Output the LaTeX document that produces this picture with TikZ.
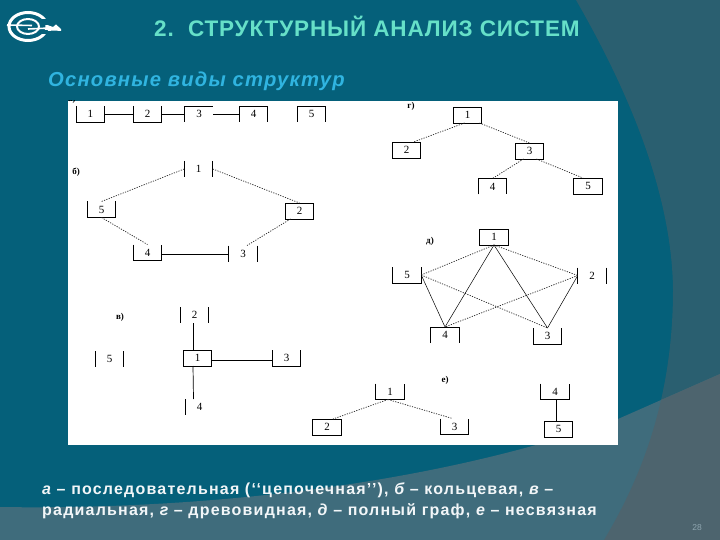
\documentclass[tikz,border=0pt]{standalone}
\usepackage{fontspec}
\setmainfont{Liberation Sans}
\newfontfamily\boxfont{Liberation Serif}
\newfontfamily\titlefont[LetterSpace=3.8]{Liberation Sans}
\newfontfamily\subfont[LetterSpace=6.0]{Liberation Sans}
\newfontfamily\capfont[LetterSpace=7.5]{Liberation Sans}
\usetikzlibrary{calc}
\definecolor{bgteal}{HTML}{05607A}
\definecolor{bgright}{HTML}{2A5F70}
\definecolor{bgband}{HTML}{3F6C7C}
\definecolor{bgover}{HTML}{4D646E}
\definecolor{titlecol}{HTML}{66E0C8}
\definecolor{subcol}{HTML}{30B4E0}
\definecolor{capcol}{HTML}{F2F6F8}
\definecolor{pagecol}{HTML}{8FA6B0}
\tikzset{
  x=1pt,y=-1pt,
  bx/.style={minimum width=28.5pt,minimum height=16pt,inner sep=0pt,outer sep=0pt,font=\boxfont\fontsize{11}{11}\selectfont},
  full/.style={bx,draw=black,line width=0.8pt},
  lbl/.style={inner sep=0pt,font=\boxfont\bfseries\fontsize{9}{9}\selectfont},
  solidl/.style={black,line width=0.7pt},
  thinl/.style={black,line width=0.5pt},
  dotl/.style={black!85,line width=0.7pt,dash pattern=on 1.2pt off 1.3pt},
  side/.style={black,line width=0.8pt},
}
\newcommand{\boxL}[1]{\draw[side] (#1.north west)--(#1.south west);}
\newcommand{\boxU}[1]{\draw[side] (#1.north west)--(#1.south west)--(#1.south east)--(#1.north east);}
\newcommand{\boxN}[1]{\draw[side] (#1.south west)--(#1.north west)--(#1.north east)--(#1.south east);}
\newcommand{\boxLR}[1]{\draw[side] (#1.north west)--(#1.south west) (#1.north east)--(#1.south east);}
\newcommand{\boxLT}[1]{\draw[side] (#1.south west)--(#1.north west)--(#1.north east);}
\begin{document}
\begin{tikzpicture}
\useasboundingbox (0,0) rectangle (720,540);
% background
\fill[bgteal] (0,0) rectangle (720,540);
\fill[bgright] (576,0) .. controls (625,85) and (672,190) .. (673,290)
  .. controls (673,400) and (640,480) .. (604,540) -- (720,540) -- (720,0) -- cycle;
\fill[bgband] (0,507) .. controls (180,510) and (420,490) .. (618,419)
  -- (720,374) -- (720,540) -- (0,540) -- cycle;
\begin{scope}
  \clip (0,507) .. controls (180,510) and (420,490) .. (618,419) -- (720,374) -- (720,540) -- (0,540) -- cycle;
  \fill[bgover] (576,0) .. controls (625,85) and (672,190) .. (673,290)
  .. controls (673,400) and (640,480) .. (604,540) -- (720,540) -- (720,0) -- cycle;
\end{scope}
% logo
\draw[white,line width=3pt] (28,26.5) ellipse [x radius=19, y radius=14];
\draw[white,line width=2pt] (28,26.5) ellipse [x radius=11, y radius=7.5];
\fill[bgteal] (40,19) rectangle (50,25);
\fill[bgteal] (40,30) rectangle (50,34);
\draw[white,line width=1.6pt] (7,25) -- (32,25.5);
\draw[white,line width=1.6pt] (28,29) -- (50,28);
\fill[white] (47,25) -- (53,27) -- (56,24.5) -- (61,29) -- (61,31) -- (54,30.5) -- (48,31) -- cycle;
% headings
\node[anchor=base west,inner sep=0pt,text=titlecol,font=\titlefont\bfseries\fontsize{22.5}{24}\selectfont] (title) at (154,37) {2.\ \ СТРУКТУРНЫЙ АНАЛИЗ СИСТЕМ};
\node[anchor=base west,inner sep=0pt,text=subcol,font=\subfont\bfseries\itshape\fontsize{20.2}{22}\selectfont] (sub) at (48,87) {Основные виды структур};
% white sheet
\fill[white] (68,101) rectangle (618,445);
\begin{scope}
  \clip (68,101) rectangle (618,445);
  \node[lbl,anchor=base west] (la) at (68,102) {а)};
\end{scope}
% a) chain
\node[bx] (a1) at (90.25,114) {1};
\node[bx] (a2) at (147.5,114) {2};
\node[bx] (a3) at (199,114) {3};
\node[bx] (a4) at (253.5,114) {4};
\node[bx] (a5) at (311.5,114) {5};
\boxU{a1}\boxU{a2}\boxLT{a3}\boxN{a4}\boxN{a5}
\draw[solidl] (a1.east)--(a2.west);
\draw[solidl] (a2.east)--(a3.west);
\draw[solidl] (a3.east)--(a4.west);
% b) ring
\node[lbl] (lb) at (76,172.5) {б)};
\node[bx] (b1) at (198.5,169) {1};
\node[bx] (b5) at (101.5,209.5) {5};
\node[full] (b2) at (299.5,211) {2};
\node[bx] (b4) at (147.5,252.5) {4};
\node[bx] (b3) at (243,253.5) {3};
\boxLR{b1}\boxU{b5}\boxU{b4}\boxLR{b3}
\draw[dotl] (b1.west)--(b5.north);
\draw[dotl] (b1.east)--(b2.north);
\draw[dotl] (b5.south)--(b4.north);
\draw[dotl] ([xshift=-9pt]b2.south)--([xshift=4pt]b3.north);
\draw[solidl] ([yshift=-1.5pt]b4.east)--([yshift=-.5pt]b3.west);
% g) tree
\node[lbl] (lg) at (411,106) {г)};
\node[full] (g1) at (467.5,115) {1};
\node[full] (g2) at (406.5,150) {2};
\node[full] (g3) at (529.5,151) {3};
\node[bx] (g4) at (492.5,186.5) {4};
\node[full] (g5) at (588,186) {5};
\boxN{g4}
\draw[dotl] ([xshift=-3pt]g1.south)--([xshift=7pt]g2.north);
\draw[dotl] ([xshift=12pt]g1.south)--(g3.north);
\draw[dotl] ([xshift=-6pt]g3.south)--(g4.north);
\draw[dotl] ([xshift=7pt]g3.south)--([xshift=-5pt]g5.north);
% d) complete
\node[lbl] (ld) at (430,241) {д)};
\node[full] (d1) at (494,237) {1};
\node[bx] (d5) at (407,275) {5};
\node[bx] (d2) at (592,275.5) {2};
\node[bx] (d4) at (445,335) {4};
\node[bx] (d3) at (547.5,336) {3};
\boxU{d5}\boxLR{d2}\boxN{d4}\boxU{d3}
\draw[dotl] (d1.south)--(d5.east);
\draw[dotl] (d1.south)--(d2.west);
\draw[dotl] (d5.east)--(d3.north);
\draw[dotl] (d2.west)--(d4.north);
\draw[thinl] (d1.south)--(d4.north);
\draw[thinl] (d1.south)--(d3.north);
\draw[thinl] (d5.east)--(d4.north);
\draw[thinl] (d2.west)--(d3.north);
% v) radial
\node[lbl] (lv) at (120,317) {в)};
\node[bx] (v2) at (194.5,315) {2};
\node[bx] (v5) at (109.5,359) {5};
\node[full] (v1) at (197.5,358) {1};
\node[bx] (v3) at (286.5,358) {3};
\node[bx] (v4) at (199.5,407) {4};
\boxLR{v2}\boxLR{v5}\boxU{v3}\boxL{v4}
\draw[solidl] ([xshift=-1.5pt]v2.south)--([xshift=-4.5pt]v1.north);
\draw[solidl] ([yshift=-2.5pt]v1.east)--([yshift=-2.5pt]v3.west);
\draw[solidl] ([xshift=-4.5pt]v1.south)--([xshift=-6pt]v4.north);
% e) disconnected
\node[lbl] (le) at (445,380) {е)};
\node[bx] (e1) at (390,391.5) {1};
\node[full] (e2) at (327,427) {2};
\node[bx] (e3) at (454.5,426.5) {3};
\node[bx] (e4) at (555,391.5) {4};
\node[full] (e5) at (558.5,429) {5};
\boxU{e1}\boxU{e3}\boxU{e4}
\draw[dotl] ([xshift=-2pt]e1.south)--([xshift=6pt]e2.north);
\draw[dotl] ([xshift=-2pt]e1.south)--([xshift=-2pt]e3.north);
\draw[solidl] ([xshift=1pt]e4.south)--([xshift=-2.5pt]e5.north);
% caption
\node[anchor=base west,inner sep=0pt,text=capcol,font=\capfont\bfseries\fontsize{16}{17}\selectfont] (c1) at (42,494) {{\itshape а} – последовательная (‘‘цепочечная’’), {\itshape б} – кольцевая, {\itshape в} –};
\node[anchor=base west,inner sep=0pt,text=capcol,font=\capfont\bfseries\fontsize{16}{17}\selectfont] (c2) at (42,515) {радиальная, {\itshape г} – древовидная, {\itshape д} – полный граф, {\itshape е} – несвязная};
\node[inner sep=0pt,text=pagecol,font=\fontsize{8.5}{9}\selectfont] (pg) at (697,528) {28};
\end{tikzpicture}
\end{document}
